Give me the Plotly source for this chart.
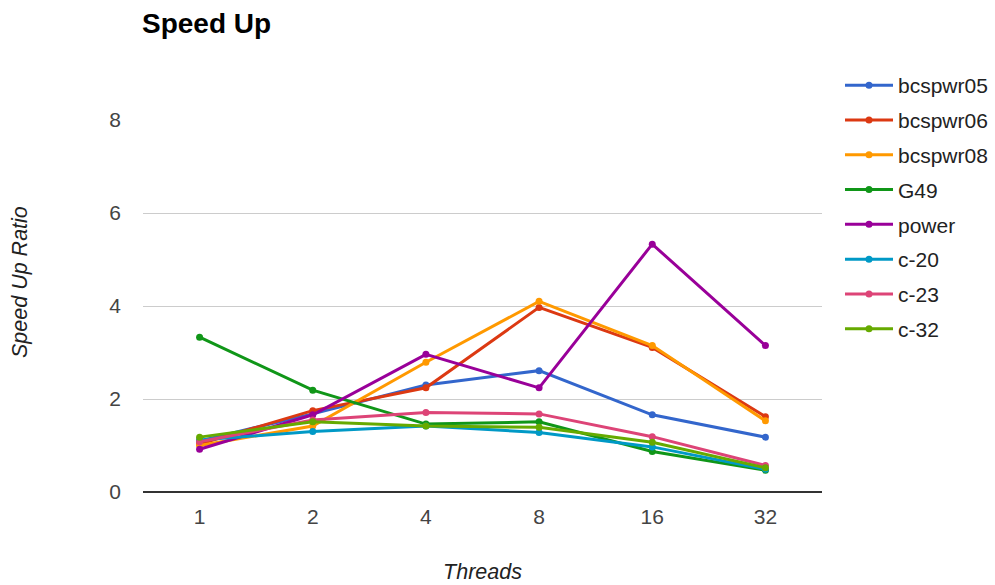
import plotly.graph_objects as go

threads = ["1", "2", "4", "8", "16", "32"]

bcspwr05 = [1.10, 1.68, 2.30, 2.61, 1.66, 1.18]
bcspwr06 = [1.03, 1.75, 2.24, 3.97, 3.11, 1.62]
bcspwr08 = [1.00, 1.42, 2.79, 4.10, 3.15, 1.53]
g49 = [3.33, 2.19, 1.46, 1.51, 0.87, 0.47]
power = [0.92, 1.66, 2.96, 2.24, 5.33, 3.15]
c20 = [1.12, 1.30, 1.42, 1.28, 0.97, 0.49]
c23 = [1.08, 1.55, 1.71, 1.68, 1.19, 0.57]
c32 = [1.18, 1.51, 1.42, 1.39, 1.07, 0.52]

series = [
    ("bcspwr05", bcspwr05, "#3366cc"),
    ("bcspwr06", bcspwr06, "#dc3912"),
    ("bcspwr08", bcspwr08, "#ff9900"),
    ("G49", g49, "#109618"),
    ("power", power, "#990099"),
    ("c-20", c20, "#0099c6"),
    ("c-23", c23, "#dd4477"),
    ("c-32", c32, "#66aa00"),
]

fig = go.Figure()
for name, vals, color in series:
    fig.add_trace(go.Scatter(
        x=threads, y=vals, name=name, mode="lines+markers",
        line=dict(color=color, width=3),
        marker=dict(color=color, size=7),
        legendgroup=name,
    ))

font = "Liberation Sans, Arial, sans-serif"

fig.update_layout(
    width=995, height=585,
    margin=dict(l=143, r=173, t=120, b=93, autoexpand=False),
    paper_bgcolor="white", plot_bgcolor="white",
    font=dict(family=font, size=21, color="#444444"),
    title=dict(text="<b>Speed Up</b>", x=142 / 995, xanchor="left",
               y=1 - 23 / 585, yanchor="middle",
               font=dict(family=font, size=28, color="#000000")),
    xaxis=dict(
        type="category", range=[-0.5, 5.5], automargin=False,
        showgrid=False, zeroline=False,
        title=dict(text="<i>Threads</i>", standoff=36,
                   font=dict(family=font, size=21.5, color="#222222")),
        tickfont=dict(family=font, size=21, color="#444444"),
        ticks="", showline=False, ticklabelstandoff=10,
    ),
    yaxis=dict(
        range=[0, 8], tickvals=[0, 2, 4, 6, 8], automargin=False,
        showgrid=True, gridcolor="#cccccc", gridwidth=1,
        zeroline=True, zerolinecolor="#333333", zerolinewidth=2,
        tickfont=dict(family=font, size=21, color="#444444"),
        ticks="", showline=False, ticklabelstandoff=21,
    ),
    legend=dict(
        xref="container", yref="container",
        x=840 / 995, xanchor="left",
        y=1 - 65 / 585, yanchor="top",
        font=dict(family=font, size=21, color="#222222"),
        tracegroupgap=4.5, itemwidth=48, maxheight=560,
        bgcolor="rgba(0,0,0,0)",
    ),
)

# Vertical axis title, centred on the full chart height
fig.add_annotation(
    text="<i>Speed Up Ratio</i>", textangle=-90,
    xref="paper", yref="paper",
    x=-123 / 679, y=(492 - 282) / 372,
    xanchor="center", yanchor="middle", showarrow=False,
    font=dict(family=font, size=21.5, color="#222222"),
)

fig.write_html("out.html")
